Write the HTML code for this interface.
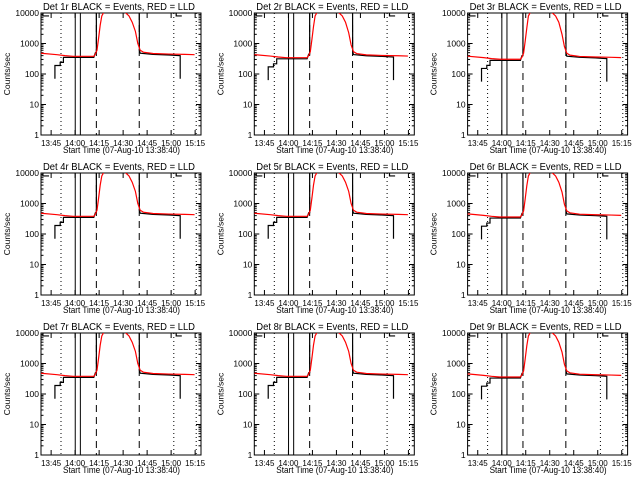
<!DOCTYPE html>
<html><head><meta charset="utf-8"><style>
html,body{margin:0;padding:0;background:#fff}
svg{display:block}
text{font-family:"Liberation Sans",sans-serif;font-size:9.5px;fill:#000}
</style></head><body>
<svg id="chart" width="640" height="480" viewBox="0 0 640 480" xmlns="http://www.w3.org/2000/svg">
<rect width="640" height="480" fill="#fff"/>
</svg>
<script>
// minutes since 13:38:40
const detectors = ["1r","2r","3r","4r","5r","6r","7r","8r","9r"];
const xTickMinutes = [6.33, 21.33, 36.33, 51.33, 66.33, 81.33, 96.33];
const xTickLabels = ["13:45","14:00","14:15","14:30","14:45","15:00","15:15"];
const yTickValues = [1, 10, 100, 1000, 10000];
const yTickLabels = ["1","10","100","1000","10000"];
const dottedMinutes = [12.5, 83, 97];
const solidMinutes = [21.4, 24.6];
const dashedMinutes = [34.6, 61.4];
const redT = [0,10,15,20,33,34,35,36,37,38,39,40,51,52,53,55,57,59,60.5,62,64,70,80,90,96];
const redV = [480,430,400,380,380,450,600,1500,4000,8000,10000,14000,14000,12000,10000,8000,5000,2500,1000,600,520,470,450,440,430];
const blackT1 = [8.7,8.7,12,12,14,14,33,34,34.6,34.6];
const blackV1 = [70,190,190,240,240,350,350,500,500,20000];
const blackT2 = [61.4,61.5,62,70,80,87,87];
const blackV2 = [20000,600,480,440,420,400,70];
const capT1 = [1.2,1.2,5];
const capV1 = [14000,8000,8000];
const capT2 = [84.5,84.5,88];
const capV2 = [14000,8000,8000];
const levelScale = [1,0.9,0.8,1,1,0.95,1,1,0.95];

const NS = "http://www.w3.org/2000/svg";
const svg = document.getElementById("chart");
function el(tag, attrs, parent){const e=document.createElementNS(NS,tag);for(const k in attrs)e.setAttribute(k,attrs[k]);(parent||svg).appendChild(e);return e;}

detectors.forEach((d, i) => {
  const ox = (i%3)*213.3, oy = Math.floor(i/3)*160;
  const L = ox+41, R = ox+201, T = oy+13, B = oy+135;
  const xs = m => L + m*1.6;
  const ys = v => B - Math.log10(v)*30.5;
  const g = el("g", {});
  
  
  const cid = "clip"+i;
  const cp = el("clipPath", {id:cid}, g);
  el("rect", {x:L, y:T, width:R-L, height:B-T}, cp);
  const t = el("text", {x:ox+43, y:oy+10, textLength:152, lengthAdjust:"spacingAndGlyphs", style:"font-size:10px"}, g);
  t.textContent = "Det "+d+" BLACK = Events, RED = LLD";
  
  
  const yl = el("text", {x:ox+10, y:oy+74, "text-anchor":"middle", transform:`rotate(-90 ${ox+10} ${oy+74})`, style:"font-size:8.5px"}, g);
  yl.textContent = "Counts/sec";
  
  
  const xl = el("text", {x:ox+63, y:oy+153, textLength:117, lengthAdjust:"spacingAndGlyphs", style:"font-size:9.5px"}, g);
  xl.textContent = "Start Time (07-Aug-10 13:38:40)";
  
  
  const fr = el("rect", {x:L, y:T, width:R-L, height:B-T, fill:"none", stroke:"#000", "stroke-width":1}, g);
  
  
  yTickValues.forEach((v, k) => {
    const y = ys(v);
    el("line", {x1:L, x2:L+5, y1:y, y2:y, stroke:"#000"}, g);
    el("line", {x1:R, x2:R-5, y1:y, y2:y, stroke:"#000"}, g);
    const tl = el("text", {x:L-2, y:y+3, "text-anchor":"end", style:"font-size:8.5px"}, g);
    tl.textContent = yTickLabels[k];
    
    
    if (k < yTickValues.length-1) for (let m=2;m<=9;m++){
      const ym = ys(v*m);
      el("line", {x1:L, x2:L+2.5, y1:ym, y2:ym, stroke:"#000"}, g);
      el("line", {x1:R, x2:R-2.5, y1:ym, y2:ym, stroke:"#000"}, g);
    }
  });
  xTickMinutes.forEach((m, k) => {
    const x = xs(m);
    el("line", {x1:x, x2:x, y1:B, y2:B-5, stroke:"#000"}, g);
    el("line", {x1:x, x2:x, y1:T, y2:T+5, stroke:"#000"}, g);
    const tl = el("text", {x:x, y:B+11, "text-anchor":"middle", style:"font-size:8px"}, g);
    tl.textContent = xTickLabels[k];
    
    
  });
  const vl = (m, dash, name) => {
    const l = el("line", {x1:xs(m), x2:xs(m), y1:T, y2:B, stroke:"#000", "stroke-dasharray":dash}, g);
    
    
  };
  dottedMinutes.forEach(m => vl(m, "1 3", "dotted-marker"));
  solidMinutes.forEach(m => vl(m, "none", "solid-marker"));
  dashedMinutes.forEach(m => vl(m, "7 5", "dashed-marker"));
  const s = levelScale[i];
  const pts = (T_, V_, sc) => T_.map((t,k)=>xs(t)+","+ys(V_[k]*(V_[k]<5000?sc:1))).join(" ");
  const mk = (T_, V_, color, name, sc) => {
    const p = el("polyline", {points:pts(T_,V_,sc), fill:"none", stroke:color, "stroke-width":1.2, "clip-path":`url(#${cid})`}, g);
    
    
  };
  mk(blackT1, blackV1, "#000", "events-series", s);
  mk(blackT2, blackV2, "#000", "events-series", s);
  mk(capT1, capV1, "#000", "events-cap", 1);
  mk(capT2, capV2, "#000", "events-cap", 1);
  mk(redT, redV, "#f00", "lld-series", s);
});
</script>
</body></html>
